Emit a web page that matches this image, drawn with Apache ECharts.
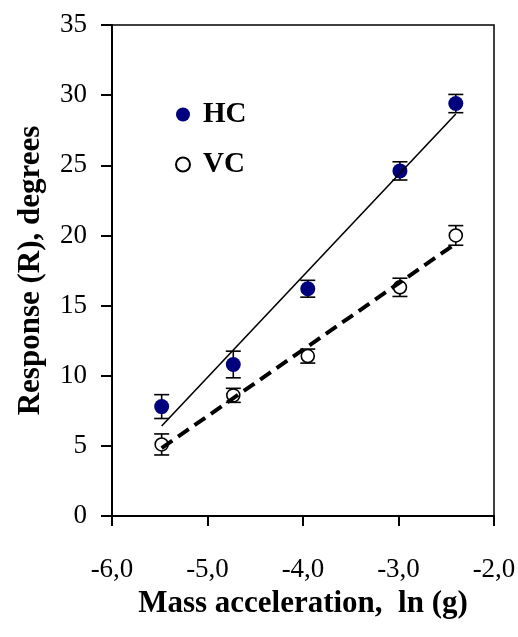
<!DOCTYPE html>
<html>
<head>
<meta charset="utf-8">
<script src="https://cdn.jsdelivr.net/npm/echarts@6/dist/echarts.min.js"></script>
<style>
  html, body { margin: 0; padding: 0; background: #fff; }
  #chart { width: 518px; height: 637px; }
</style>
</head>
<body>
<div id="chart"></div>
<script>
// ln(g) positions of the five mass accelerations
var xVals = [-5.48, -4.73, -3.95, -2.985, -2.40];
// mean response, degrees
var hcVals = [7.8, 10.8, 16.2, 24.6, 29.4];
var vcVals = [5.1, 8.6, 11.4, 16.3, 20.0];
// error bar half heights
var hcErr = [0.85, 0.95, 0.6, 0.65, 0.65];
var vcErr = [0.75, 0.5, 0.5, 0.65, 0.7];

var serif = "'Liberation Serif', 'Times New Roman', serif";

function pairs(ys) {
    return xVals.map(function (x, i) { return [x, ys[i]]; });
}
function errData(ys, es) {
    return xVals.map(function (x, i) { return [x, ys[i] - es[i], ys[i] + es[i]]; });
}
// least squares line over the points, drawn between the first and last x
function fitLine(ys) {
    var n = xVals.length, mx = 0, my = 0;
    for (var i = 0; i < n; i++) { mx += xVals[i]; my += ys[i]; }
    mx /= n; my /= n;
    var sxy = 0, sxx = 0;
    for (var j = 0; j < n; j++) {
        sxy += (xVals[j] - mx) * (ys[j] - my);
        sxx += (xVals[j] - mx) * (xVals[j] - mx);
    }
    var b = sxy / sxx, a = my - b * mx;
    var x0 = xVals[0], x1 = xVals[n - 1];
    return [[x0, a + b * x0], [x1, a + b * x1]];
}

function errorBar(params, api) {
    var x = api.value(0);
    var lo = api.coord([x, api.value(1)]);
    var hi = api.coord([x, api.value(2)]);
    var cap = 7.5;
    var style = { stroke: '#000', lineWidth: 1.6 };
    return {
        type: 'group',
        children: [
            { type: 'line', shape: { x1: lo[0], y1: lo[1], x2: hi[0], y2: hi[1] }, style: style },
            { type: 'line', shape: { x1: lo[0] - cap, y1: lo[1], x2: lo[0] + cap, y2: lo[1] }, style: style },
            { type: 'line', shape: { x1: hi[0] - cap, y1: hi[1], x2: hi[0] + cap, y2: hi[1] }, style: style }
        ]
    };
}

var chart = echarts.init(document.getElementById('chart'));

var option = {
    animation: false,
    backgroundColor: '#fff',
    textStyle: { fontFamily: serif },
    grid: {
        left: 112, right: 24, top: 25, bottom: 121,
        outerBoundsMode: 'none', containLabel: false,
        show: true, borderColor: '#000', borderWidth: 1.5
    },
    legend: {
        data: ['HC', 'VC'],
        orient: 'vertical',
        left: 170,
        top: 95,
        itemWidth: 30,
        itemHeight: 14,
        itemGap: 21,
        textStyle: { fontFamily: serif, fontSize: 29, fontWeight: 'bold', color: '#000' }
    },
    xAxis: {
        type: 'value',
        min: -6, max: -2, interval: 1,
        name: 'Mass acceleration,  ln (g)',
        nameLocation: 'middle',
        nameGap: 72,
        nameTextStyle: { fontFamily: serif, fontSize: 31, fontWeight: 'bold', color: '#000' },
        axisLine: { show: true, onZero: false, lineStyle: { color: '#000', width: 2 } },
        axisTick: { show: true, inside: false, length: 10, lineStyle: { color: '#000', width: 2 } },
        axisLabel: {
            margin: 40, fontFamily: serif, fontSize: 27, color: '#000',
            formatter: function (v) { return v.toFixed(1).replace('.', ','); }
        },
        splitLine: { show: false }
    },
    yAxis: {
        type: 'value',
        min: 0, max: 35, interval: 5,
        name: 'Response (R), degrees',
        nameLocation: 'middle',
        nameGap: 66,
        nameTextStyle: { fontFamily: serif, fontSize: 31, fontWeight: 'bold', color: '#000' },
        axisLine: { show: true, lineStyle: { color: '#000', width: 2 } },
        axisTick: { show: true, inside: false, length: 11, lineStyle: { color: '#000', width: 2 } },
        axisLabel: { margin: 25, fontFamily: serif, fontSize: 27, color: '#000' },
        splitLine: { show: false }
    },
    series: [
        {
            name: 'HC err', type: 'custom', renderItem: errorBar,
            data: errData(hcVals, hcErr), z: 2, silent: true
        },
        {
            name: 'VC err', type: 'custom', renderItem: errorBar,
            data: errData(vcVals, vcErr), z: 2, silent: true
        },
        {
            name: 'HC', type: 'scatter', symbol: 'circle', symbolSize: 15,
            itemStyle: { color: '#00007f', opacity: 1 },
            data: pairs(hcVals), z: 3
        },
        {
            name: 'VC', type: 'scatter', symbol: 'circle', symbolSize: 13,
            itemStyle: { color: '#fff', borderColor: '#000', borderWidth: 1.6, opacity: 1 },
            data: pairs(vcVals), z: 3
        },
        {
            name: 'HC fit', type: 'line', showSymbol: false, symbol: 'none',
            lineStyle: { color: '#000', width: 1.6 },
            data: fitLine(hcVals), z: 4, silent: true
        },
        {
            name: 'VC fit', type: 'line', showSymbol: false, symbol: 'none',
            lineStyle: { color: '#000', width: 4, type: [13, 7] },
            data: fitLine(vcVals), z: 4, silent: true
        }
    ]
};

chart.setOption(option);
</script>
</body>
</html>
